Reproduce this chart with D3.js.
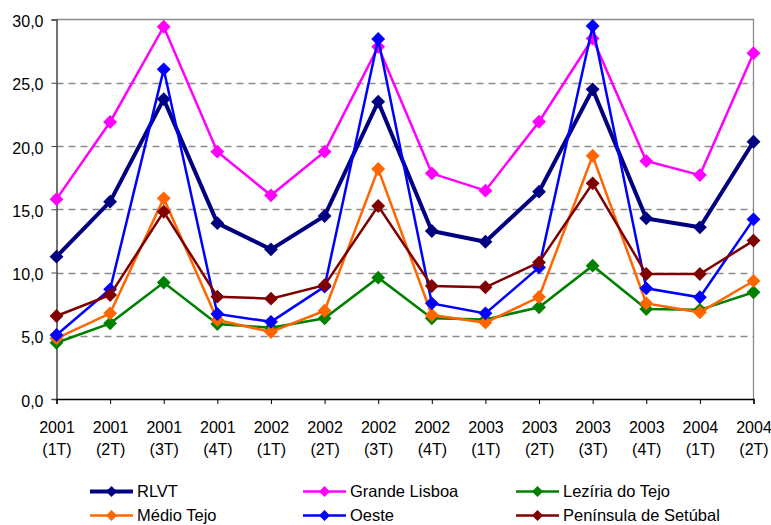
<!DOCTYPE html>
<html>
<head>
<meta charset="utf-8">
<script src="https://cdn.jsdelivr.net/npm/d3@7"></script>
<style>
  html, body { margin: 0; padding: 0; background: #fff; }
  svg { display: block; font-family: "Liberation Sans", Arial, sans-serif; }
</style>
</head>
<body>
<svg id="chart" width="771" height="525"></svg>
<script>
// Quarters along the horizontal axis
const years = ["2001","2001","2001","2001","2002","2002","2002","2002","2003","2003","2003","2003","2004","2004"];
const quarters = ["(1T)","(2T)","(3T)","(4T)","(1T)","(2T)","(3T)","(4T)","(1T)","(2T)","(3T)","(4T)","(1T)","(2T)"];

// Series values per region
const rlvt = [11.25, 15.6, 23.7, 13.9, 11.83, 14.47, 23.5, 13.28, 12.43, 16.39, 24.48, 14.28, 13.57, 20.34];
const grandeLisboa = [15.8, 21.9, 29.43, 19.55, 16.1, 19.55, 27.85, 17.84, 16.47, 21.92, 28.5, 18.81, 17.7, 27.33];
const leziriaTejo = [4.45, 5.98, 9.2, 5.93, 5.64, 6.38, 9.59, 6.38, 6.28, 7.25, 10.54, 7.11, 7.05, 8.44];
const medioTejo = [4.8, 6.77, 15.86, 6.25, 5.3, 6.98, 18.18, 6.64, 6.04, 8.06, 19.23, 7.56, 6.85, 9.33];
const oeste = [5.06, 8.67, 26.06, 6.72, 6.1, 8.88, 28.46, 7.56, 6.77, 10.4, 29.49, 8.75, 8.04, 14.2];
const peninsulaSetubal = [6.56, 8.22, 14.8, 8.09, 7.93, 9.0, 15.26, 8.93, 8.83, 10.8, 17.05, 9.88, 9.88, 12.52];

const yTicks = [0, 5, 10, 15, 20, 25, 30];

const series = [
  { name: "RLVT", values: rlvt, color: "#000080", width: 4 },
  { name: "Grande Lisboa", values: grandeLisboa, color: "#FF00FF", width: 2.5 },
  { name: "Lezíria do Tejo", values: leziriaTejo, color: "#008000", width: 2.5 },
  { name: "Médio Tejo", values: medioTejo, color: "#FF6600", width: 2.5 },
  { name: "Oeste", values: oeste, color: "#0000FF", width: 2.5 },
  { name: "Península de Setúbal", values: peninsulaSetubal, color: "#800000", width: 2.5 }
];

const svg = d3.select("#chart");
const plotLeft = 56.5, plotRight = 753.5, plotTop = 19.5, plotBottom = 399;

const x = d3.scalePoint().domain(d3.range(years.length)).range([plotLeft, plotRight]).padding(0);
const y = d3.scaleLinear().domain([0, 30]).range([plotBottom, plotTop]);

// Dashed gridlines
svg.append("g")
  .selectAll("line")
  .data(yTicks.filter(t => t > 0 && t < 30))
  .join("line")
  .attr("x1", plotLeft).attr("x2", plotRight)
  .attr("y1", d => Math.round(y(d)) + 0.5).attr("y2", d => Math.round(y(d)) + 0.5)
  .attr("stroke", "#8c8c8c").attr("stroke-width", 1.3)
  .attr("stroke-dasharray", "7,5");

// Plot frame (top and right)
svg.append("path")
  .attr("d", `M${plotLeft},${plotTop}H${plotRight}V${plotBottom}`)
  .attr("fill", "none").attr("stroke", "#8c8c8c").attr("stroke-width", 1.3);

// Y axis
const yAxis = d3.axisLeft(y).tickValues(yTicks).tickSize(5).tickPadding(8)
  .tickFormat(d => d3.format(".1f")(d).replace(".", ","));
const gy = svg.append("g").attr("transform", `translate(${plotLeft},0)`).call(yAxis);
gy.select(".domain").attr("stroke", "#444").attr("stroke-width", 1.5);
gy.selectAll(".tick line").attr("stroke", "#444");
gy.selectAll(".tick text").attr("font-size", 16).attr("fill", "#000")
  .attr("font-family", "Liberation Sans, Arial, sans-serif").attr("dy", "0.45em");

// X axis
const xAxis = d3.axisBottom(x).tickSize(5).tickFormat(() => "");
const gx = svg.append("g").attr("transform", `translate(0,${plotBottom})`).call(xAxis);
gx.select(".domain").attr("stroke", "#000").attr("stroke-width", 1.3);
gx.selectAll(".tick line").attr("stroke", "#000");
gx.selectAll(".tick text").remove();
const xl = gx.selectAll(".tick").append("text")
  .attr("text-anchor", "middle").attr("fill", "#000").attr("font-size", 16)
  .attr("font-family", "Liberation Sans, Arial, sans-serif");
xl.append("tspan").attr("x", 0).attr("y", 34).text(d => years[d]);
xl.append("tspan").attr("x", 0).attr("y", 56).text(d => quarters[d]);

// Lines and diamond markers
const line = d3.line().x((d, i) => x(i)).y(d => y(d));
const diamond = d3.symbol().type(d3.symbolSquare).size(96);

series.forEach(s => {
  const g = svg.append("g");
  g.append("path").datum(s.values)
    .attr("d", line).attr("fill", "none")
    .attr("stroke", s.color).attr("stroke-width", s.width)
    .attr("stroke-linejoin", "miter");
  g.selectAll("path.m").data(s.values).join("path").attr("class", "m")
    .attr("d", diamond)
    .attr("transform", (d, i) => `translate(${x(i)},${y(d)}) rotate(45)`)
    .attr("fill", s.color);
});

// Legend: three columns, two rows
const legendCols = [90, 303, 516];
const legendRows = [491.5, 515.5];
const legendMarker = d3.symbol().type(d3.symbolSquare).size(60);
series.forEach((s, i) => {
  const lx = legendCols[i % 3], ly = legendRows[Math.floor(i / 3)];
  const g = svg.append("g").attr("transform", `translate(${lx},${ly})`);
  g.append("line").attr("x1", 0).attr("x2", 43).attr("y1", 0).attr("y2", 0)
    .attr("stroke", s.color).attr("stroke-width", s.width);
  g.append("path").attr("d", legendMarker)
    .attr("transform", "translate(21.5,0) rotate(45)").attr("fill", s.color);
  g.append("text").attr("x", 47).attr("y", 5.5).attr("font-size", 16.5)
    .attr("fill", "#000").text(s.name);
});
</script>
</body>
</html>
